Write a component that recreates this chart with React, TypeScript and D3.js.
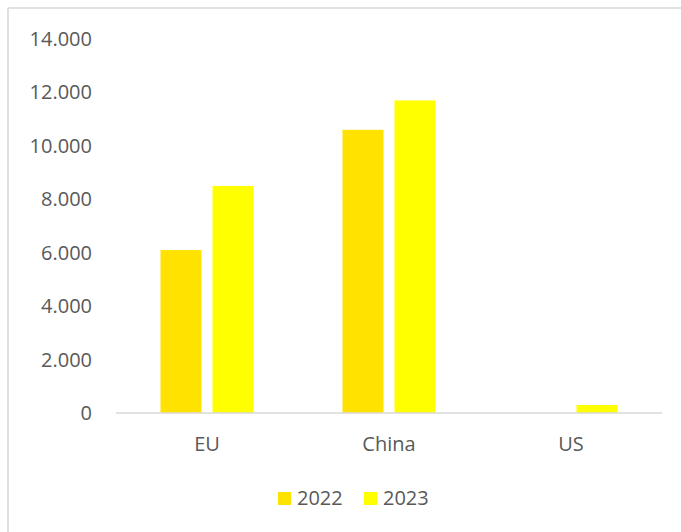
import React from "react";
import * as d3 from "d3";

const categories = ["EU", "China", "US"];
const seriesNames = ["2022", "2023"];
const values2022 = [6100, 10600, 0];
const values2023 = [8500, 11700, 300];
const yTicks = [0, 2000, 4000, 6000, 8000, 10000, 12000, 14000];
const colors = ["#FFE200", "#FFFF00"];

const W = 681;
const H = 532;
const plotLeft = 116;
const plotRight = 662;
const plotTop = 39;
const plotBottom = 413;
const font = "'Open Sans', sans-serif";
const textColor = "#595959";

export default function App() {
  const x = d3.scaleBand<string>().domain(categories).range([plotLeft, plotRight]).paddingInner(0).paddingOuter(0);
  const y = d3.scaleLinear().domain([0, 14000]).range([plotBottom, plotTop]);
  const barW = 41;
  const gap = 11;
  const series = [values2022, values2023];
  const fmt = (v: number) => (v === 0 ? "0" : d3.format(",")(v).replace(/,/g, "."));

  return (
    <svg width={W} height={H} style={{ position: "absolute", left: 0, top: 0, background: "#fff" }}>
      <line x1={8} y1={8} x2={W} y2={8} stroke="#D9D9D9" strokeWidth={1.6} />
      <line x1={8} y1={8} x2={8} y2={H} stroke="#D9D9D9" strokeWidth={1.6} />
      {yTicks.map((t) => (
        <text key={t} x={92} y={y(t)} dy="0.35em" textAnchor="end" fontFamily={font} fontSize={20} fill={textColor}>
          {fmt(t)}
        </text>
      ))}
      {categories.map((c, i) => {
        const cx = (x(c) as number) + x.bandwidth() / 2;
        return (
          <g key={c}>
            {series.map((s, si) => {
              const bx = si === 0 ? cx - gap / 2 - barW : cx + gap / 2;
              const v = s[i];
              if (v <= 0) return null;
              return <rect key={si} x={bx} y={y(v)} width={barW} height={y(0) - y(v)} fill={colors[si]} />;
            })}
            <text x={cx} y={451} textAnchor="middle" fontFamily={font} fontSize={20} fill={textColor}>
              {c}
            </text>
          </g>
        );
      })}
      <line x1={plotLeft} y1={plotBottom} x2={plotRight} y2={plotBottom} stroke="#D9D9D9" strokeWidth={1.6} />
      {seriesNames.map((n, i) => {
        const lx = i === 0 ? 278 : 364;
        return (
          <g key={n}>
            <rect x={lx} y={492} width={13} height={13} fill={colors[i]} />
            <text x={lx + 19} y={505} fontFamily={font} fontSize={20} fill={textColor}>
              {n}
            </text>
          </g>
        );
      })}
    </svg>
  );
}
